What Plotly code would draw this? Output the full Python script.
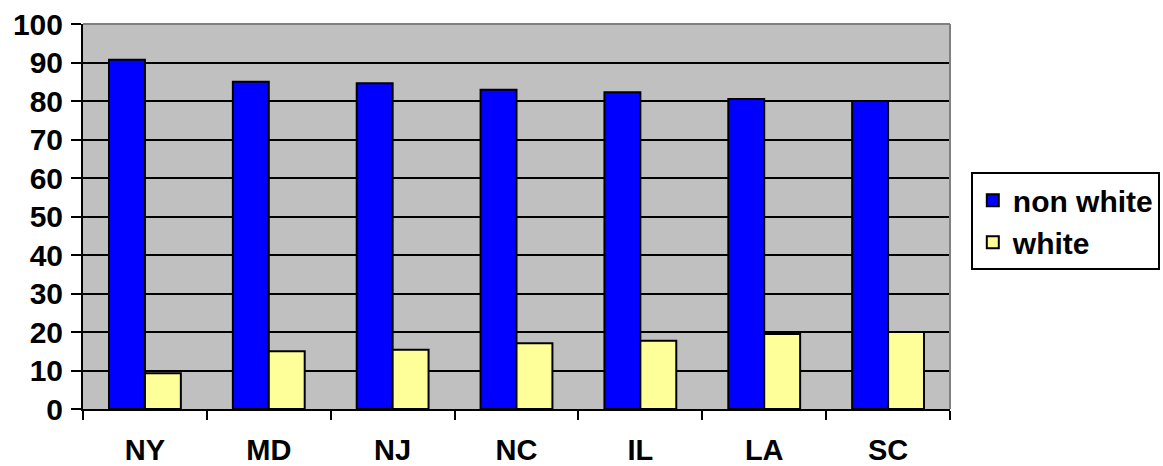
import plotly.graph_objects as go

states = ["NY", "MD", "NJ", "NC", "IL", "LA", "SC"]
non_white = [90.7, 85.0, 84.6, 82.9, 82.3, 80.5, 80.0]
white = [9.3, 15.0, 15.4, 17.1, 17.7, 19.5, 20.0]

FONT = "Liberation Sans, Arial, sans-serif"


def bold(size):
    return dict(family=FONT, size=size, color="black", weight="bold")


fig = go.Figure()
fig.add_trace(go.Bar(
    x=states, y=non_white, name="non white", legendgroup="a",
    marker=dict(color="#0000FF", line=dict(color="black", width=2)),
))
fig.add_trace(go.Bar(
    x=states, y=white, name="white", legendgroup="b",
    marker=dict(color="#FFFF99", line=dict(color="black", width=2)),
))

fig.update_layout(
    width=1163, height=466,
    margin=dict(l=83, r=213, t=24, b=57, autoexpand=False),
    paper_bgcolor="white",
    plot_bgcolor="#C0C0C0",
    barmode="group",
    bargap=0.42,
    bargroupgap=0,
    font=dict(family=FONT, size=28, color="black"),
    legend=dict(
        x=1.024, y=0.615, xanchor="left", yanchor="top",
        bgcolor="white", bordercolor="black", borderwidth=2,
        font=bold(30), tracegroupgap=0, itemwidth=30,
    ),
    showlegend=True,
)

fig.update_yaxes(
    range=[0, 100], dtick=10,
    showgrid=True, gridcolor="black", gridwidth=2,
    showline=True, linecolor="black", linewidth=2,
    ticks="outside", ticklen=10, tickwidth=2, tickcolor="black",
    tickfont=bold(30), ticklabelstandoff=2, automargin=False,
    zeroline=False, fixedrange=True,
)
fig.update_xaxes(
    type="category", tickson="boundaries",
    showline=True, linecolor="black", linewidth=2,
    ticks="outside", ticklen=9, tickwidth=2, tickcolor="black",
    tickfont=bold(29), ticklabelstandoff=14, automargin=False,
    showgrid=False, fixedrange=True,
)

# grey frame along the top and right of the plot area
fig.add_shape(type="line", xref="paper", yref="paper", x0=0, x1=1, y0=1, y1=1,
              line=dict(color="#808080", width=2))
fig.add_shape(type="line", xref="paper", yref="paper", x0=1, x1=1, y0=0, y1=1,
              line=dict(color="#808080", width=2))

fig.write_html("out.html")
